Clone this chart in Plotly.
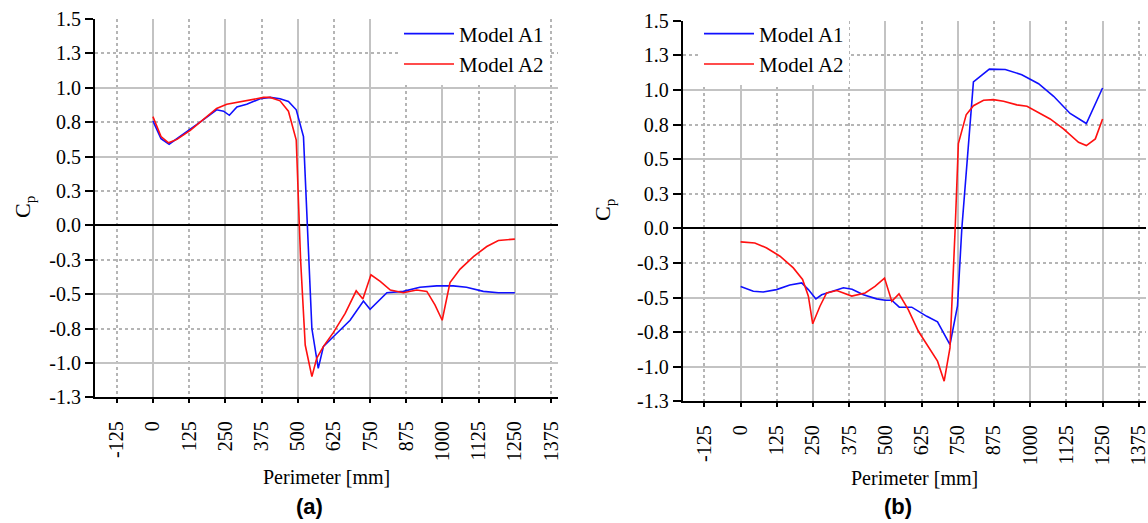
import numpy as np
import plotly.graph_objects as go

# ---------------- data ----------------
# Panel (a)
a_A1_x = [0, 28, 56, 117, 163, 220, 244, 264, 290, 324, 370, 405, 439, 468, 495, 520, 537, 549, 571,
          589, 623, 681, 727, 750, 808, 865, 922, 980, 1037, 1083, 1141, 1193, 1250]
a_A1_y = [0.76, 0.63, 0.59, 0.68, 0.75, 0.84, 0.83, 0.80, 0.86, 0.88, 0.92, 0.93, 0.92, 0.90, 0.84, 0.645, -0.25, -0.75, -1.04,
          -0.88, -0.81, -0.69, -0.55, -0.61, -0.49, -0.48, -0.45, -0.44, -0.44, -0.45, -0.48, -0.49, -0.49]

a_A2_x = [0, 28, 54, 83, 129, 186, 220, 255, 301, 347, 382, 405, 439, 468, 495, 510, 526, 549, 566, 589,
          623, 664, 702, 725, 753, 785, 820, 865, 911, 946, 974, 999, 1026, 1061, 1107, 1153, 1193, 1250]
a_A2_y = [0.79, 0.645, 0.60, 0.625, 0.69, 0.79, 0.85, 0.88, 0.90, 0.92, 0.93, 0.93, 0.905, 0.83, 0.62, -0.25, -0.87, -1.10, -0.965, -0.88,
          -0.78, -0.64, -0.476, -0.536, -0.36, -0.408, -0.47, -0.49, -0.47, -0.48, -0.578, -0.69, -0.416, -0.318, -0.227, -0.154, -0.11, -0.10]

# Panel (b)
b_A1_x = [0, 44, 78, 124, 170, 211, 234, 260, 280, 320, 355, 385, 424, 470, 499, 522, 548, 591, 643, 680,
          723, 749, 764, 804, 859, 914, 971, 1029, 1081, 1138, 1194, 1250]
b_A1_y = [-0.42, -0.455, -0.46, -0.443, -0.41, -0.395, -0.443, -0.51, -0.48, -0.455, -0.43, -0.44, -0.48, -0.51, -0.52, -0.52, -0.57, -0.57, -0.636, -0.676,
          -0.84, -0.56, 0.0, 1.058, 1.15, 1.147, 1.11, 1.045, 0.954, 0.83, 0.757, 1.014]

b_A2_x = [0, 49, 90, 136, 182, 214, 234, 249, 274, 297, 332, 384, 430, 464, 497, 522, 547, 579, 614, 643,
          680, 703, 723, 741, 752, 779, 804, 839, 873, 908, 954, 989, 1029, 1069, 1115, 1167, 1194, 1225, 1250]
b_A2_y = [-0.098, -0.106, -0.142, -0.202, -0.286, -0.37, -0.49, -0.69, -0.563, -0.467, -0.45, -0.49, -0.467, -0.42, -0.36, -0.527, -0.474, -0.587, -0.744, -0.84,
          -0.96, -1.105, -0.864, 0.0, 0.612, 0.82, 0.886, 0.925, 0.93, 0.918, 0.892, 0.882, 0.838, 0.79, 0.718, 0.621, 0.598, 0.646, 0.79]

series_names = ["Model A1", "Model A2"]

x_tickvals = [-125, 0, 125, 250, 375, 500, 625, 750, 875, 1000, 1125, 1250, 1375]
x_ticktext = ["-125", "0", "125", "250", "375", "500", "625", "750", "875", "1000", "1125", "1250", "1375"]
y_tickvals = [-1.25, -1.0, -0.75, -0.5, -0.25, 0.0, 0.25, 0.5, 0.75, 1.0, 1.25, 1.5]
y_ticktext = ["-1.3", "-1.0", "-0.8", "-0.5", "-0.3", "0.0", "0.3", "0.5", "0.8", "1.0", "1.3", "1.5"]

x_major_grid = [0, 250, 500, 750, 1000, 1250]
x_minor_grid = [-125, 125, 375, 625, 875, 1125, 1375]
y_major_grid = [-1.0, -0.5, 0.0, 0.5, 1.0]
y_minor_grid = [-0.75, -0.25, 0.25, 0.75, 1.25]

X_RANGE = [-200, 1400]
Y_RANGE = [-1.25, 1.5]

# ---------------- styling ----------------
W, H = 1148, 523
SERIF = "'Liberation Serif', 'Times New Roman', Times, 'DejaVu Serif', serif"
SANS = "'Liberation Sans', Arial, sans-serif"
BLUE = "#1010ff"
RED = "#ff1010"
GRID = "#c3c3c3"
MINOR = "#b5b5b5"

fig = go.Figure()

def add_panel(xa, ya, a1x, a1y, a2x, a2y, legend):
    fig.add_trace(go.Scatter(x=a1x, y=a1y, mode="lines", name=series_names[0],
                             line=dict(color=BLUE, width=1.6), xaxis=xa, yaxis=ya, legend=legend))
    fig.add_trace(go.Scatter(x=a2x, y=a2y, mode="lines", name=series_names[1],
                             line=dict(color=RED, width=1.6), xaxis=xa, yaxis=ya, legend=legend))

add_panel("x", "y", a_A1_x, a_A1_y, a_A2_x, a_A2_y, "legend")
add_panel("x2", "y2", b_A1_x, b_A1_y, b_A2_x, b_A2_y, "legend2")

# empty helper traces so the grid overlay axes exist
for xa, ya in [("x3", "y"), ("x", "y3"), ("x4", "y2"), ("x2", "y4")]:
    fig.add_trace(go.Scatter(x=[], y=[], xaxis=xa, yaxis=ya, showlegend=False, hoverinfo="skip"))

tickfont = dict(family=SERIF, size=20, color="black")

def label_x(domain, anchor):
    return dict(domain=domain, anchor=anchor, range=X_RANGE, tickmode="array",
                tickvals=x_tickvals, ticktext=x_ticktext, tickangle=-90,
                ticks="outside", ticklen=4, tickwidth=1.5, tickcolor="black",
                showline=True, linecolor="black", linewidth=2,
                showgrid=False, zeroline=False, tickfont=tickfont,
                ticklabelstandoff=10, ticklabeloverflow="allow",
                fixedrange=True, automargin=False)

def label_y(domain, anchor):
    return dict(domain=domain, anchor=anchor, range=Y_RANGE, tickmode="array",
                tickvals=y_tickvals, ticktext=y_ticktext,
                ticks="outside", ticklen=8, tickwidth=1.5, tickcolor="black",
                showline=True, linecolor="black", linewidth=2,
                showgrid=False, zeroline=True, zerolinecolor="black", zerolinewidth=1.6,
                tickfont=tickfont, ticklabeloverflow="allow",
                fixedrange=True, automargin=False)

def grid_x(over, anchor):
    return dict(overlaying=over, anchor=anchor, range=X_RANGE, tickmode="array",
                tickvals=x_major_grid, showticklabels=False, ticks="",
                showline=False, zeroline=False, showgrid=True, gridcolor=GRID, gridwidth=1.5,
                minor=dict(tickmode="array", tickvals=x_minor_grid, showgrid=True,
                           griddash="dot", gridcolor=MINOR, gridwidth=1.5, ticks=""),
                fixedrange=True, automargin=False)

def grid_y(over, anchor):
    return dict(overlaying=over, anchor=anchor, range=Y_RANGE, tickmode="array",
                tickvals=y_major_grid, showticklabels=False, ticks="",
                showline=False, zeroline=False, showgrid=True, gridcolor=GRID, gridwidth=1.5,
                minor=dict(tickmode="array", tickvals=y_minor_grid, showgrid=True,
                           griddash="dot", gridcolor=MINOR, gridwidth=1.5, ticks=""),
                fixedrange=True, automargin=False)

xa_dom = [95 / W, 558.3 / W]
xb_dom = [682.7 / W, 1146 / W]
ya_dom = [(H - 397.3) / H, (H - 19) / H]
yb_dom = [(H - 401.3) / H, (H - 20.7) / H]

legend_common = dict(bgcolor="white", borderwidth=0, itemwidth=50, tracegroupgap=0,
                     font=dict(family=SERIF, size=21, color="black"),
                     xanchor="left", yanchor="top", traceorder="normal")

fig.update_layout(
    width=W, height=H,
    margin=dict(l=0, r=0, t=0, b=0),
    paper_bgcolor="white", plot_bgcolor="white",
    font=dict(family=SERIF, color="black"),
    xaxis=label_x(xa_dom, "y"),
    yaxis=label_y(ya_dom, "x"),
    xaxis2=label_x(xb_dom, "y2"),
    yaxis2=label_y(yb_dom, "x2"),
    xaxis3=grid_x("x", "y"),
    yaxis3=grid_y("y", "x"),
    xaxis4=grid_x("x2", "y2"),
    yaxis4=grid_y("y2", "x2"),
    legend=dict(legend_common, x=(404 - 5) / W, y=1 - 13.5 / H),
    legend2=dict(legend_common, x=(704 - 5) / W, y=1 - 13.5 / H),
    hovermode=False,
)

ann_font = dict(family=SERIF, size=20, color="black")
annotations = [
    dict(text="Perimeter [mm]", x=326.6 / W, y=1 - 477 / H, font=ann_font),
    dict(text="Perimeter [mm]", x=914 / W, y=1 - 478 / H, font=ann_font),
    dict(text="C<sub>p</sub>", x=24 / W, y=1 - 207 / H, textangle=-90, font=dict(family=SERIF, size=22, color="black")),
    dict(text="C<sub>p</sub>", x=604 / W, y=1 - 210 / H, textangle=-90, font=dict(family=SERIF, size=22, color="black")),
    dict(text="<b>(a)</b>", x=309 / W, y=1 - 506 / H, font=dict(family=SANS, size=22, color="black")),
    dict(text="<b>(b)</b>", x=898 / W, y=1 - 506 / H, font=dict(family=SANS, size=22, color="black")),
]
for a in annotations:
    fig.add_annotation(xref="paper", yref="paper", showarrow=False,
                       xanchor="center", yanchor="middle", **a)

fig.write_html("out.html")
